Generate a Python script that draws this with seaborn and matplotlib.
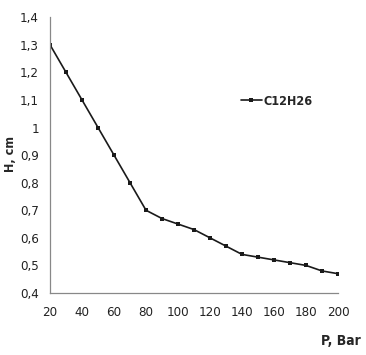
import matplotlib
matplotlib.use('Agg')
import matplotlib.pyplot as plt
import seaborn as sns
import pandas as pd
from matplotlib.ticker import FuncFormatter

# Data
pressure = [20, 30, 40, 50, 60, 70, 80, 90, 100, 110, 120, 130, 140, 150, 160, 170, 180, 190, 200]
height = [1.30, 1.20, 1.10, 1.00, 0.90, 0.80, 0.70, 0.67, 0.65, 0.63, 0.60, 0.57, 0.54, 0.53, 0.52, 0.51, 0.50, 0.48, 0.47]
series_name = 'C12H26'
x_ticks = [20, 40, 60, 80, 100, 120, 140, 160, 180, 200]
y_ticks = [0.4, 0.5, 0.6, 0.7, 0.8, 0.9, 1.0, 1.1, 1.2, 1.3, 1.4]

df = pd.DataFrame({'P': pressure, 'H': height, 'series': series_name})

sns.set_style('white')
plt.rcParams['font.family'] = ['DejaVu Sans']
plt.rcParams['font.stretch'] = 'condensed'

fig = plt.figure(figsize=(3.66, 3.55), dpi=100)
ax = fig.add_axes([0.1366, 0.1746, 0.787, 0.777])

sns.lineplot(data=df, x='P', y='H', hue='series', palette=['#1a1a1a'],
             marker='s', markersize=3.2, markeredgewidth=0, linewidth=1.2, ax=ax)

ax.set_xlim(20, 200)
ax.set_ylim(0.4, 1.4)
ax.set_xticks(x_ticks)
ax.set_yticks(y_ticks)


def comma_fmt(v, pos):
    s = f'{v:.1f}'.rstrip('0').rstrip('.')
    return s.replace('.', ',')


ax.yaxis.set_major_formatter(FuncFormatter(comma_fmt))
ax.tick_params(axis='both', labelsize=9.5, colors='#222222', length=4, width=0.8,
               direction='out', pad=4)
ax.tick_params(axis='both', color='#888888')
ax.tick_params(axis='x', pad=5)

for s in ['top', 'right']:
    ax.spines[s].set_visible(False)
for s in ['left', 'bottom']:
    ax.spines[s].set_color('#888888')
    ax.spines[s].set_linewidth(0.9)

ax.set_xlabel('')
ax.set_ylabel('')
fig.text(0.03, 0.565, 'H, cm', rotation=90, fontsize=9, fontweight='bold',
         ha='center', va='center')
fig.text(0.985, 0.04, 'P, Bar', fontsize=10, fontweight='bold', ha='right', va='center')

leg = ax.legend(loc='center left', bbox_to_anchor=(0.645, 0.695), frameon=False,
                fontsize=9, handlelength=1.7, handletextpad=0.1, borderaxespad=0)
for t in leg.get_texts():
    t.set_fontweight('bold')

fig.savefig('out.png', dpi=100)
